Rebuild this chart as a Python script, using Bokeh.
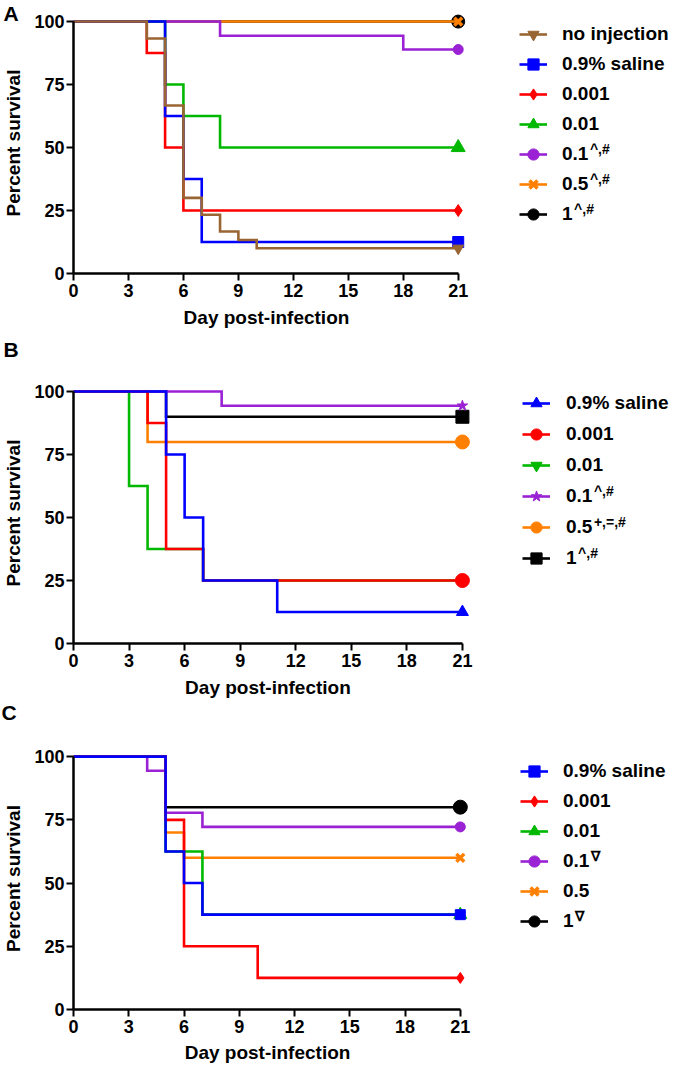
from bokeh.plotting import figure
from bokeh.models import Range1d, Legend, LegendItem, Label, FixedTicker, Title
from bokeh.layouts import column
from bokeh.embed import file_html
from bokeh.resources import INLINE

FONT = "Liberation Sans"

# ---------------- data ----------------
x_ticks = [0, 3, 6, 9, 12, 15, 18, 21]
y_ticks = [0, 25, 50, 75, 100]
x_title = "Day post-infection"
y_title = "Percent survival"

# Panel A
a_labels = ["no injection", "0.9% saline", "0.001", "0.01", "0.1", "0.5", "1"]
a_sups = ["", "", "", "", "^,#", "^,#", "^,#"]
a_days = [
    [0, 4, 5, 6, 7, 8, 9, 10, 21],
    [0, 5, 6, 7, 21],
    [0, 4, 5, 6, 21],
    [0, 5, 6, 8, 21],
    [0, 8, 18, 21],
    [0, 21],
    [0, 21],
]
a_surv = [
    [100, 93.3, 66.7, 30, 23.3, 16.7, 13.3, 10, 10],
    [100, 62.5, 37.5, 12.5, 12.5],
    [100, 87.5, 50, 25, 25],
    [100, 75, 62.5, 50, 50],
    [100, 94.4, 88.9, 88.9],
    [100, 100],
    [100, 100],
]
a_colors = ["#996633", "#0000FF", "#FF0000", "#00B800", "#9A22D4", "#FF8000", "#000000"]
a_markers = ["inverted_triangle", "square", "diamond", "triangle", "circle", "x", "circle"]
a_sizes = [11, 11, 12, 14, 10, 11, 13]

# Panel B
b_labels = ["0.9% saline", "0.001", "0.01", "0.1", "0.5", "1"]
b_sups = ["", "", "", "^,#", "+,=,#", "^,#"]
b_days = [
    [0, 5, 6, 7, 11, 21],
    [0, 4, 5, 7, 21],
    [0, 3, 4, 7, 21],
    [0, 8, 21],
    [0, 4, 21],
    [0, 5, 21],
]
b_surv = [
    [100, 75, 50, 25, 12.5, 12.5],
    [100, 87.5, 37.5, 25, 25],
    [100, 62.5, 37.5, 25, 25],
    [100, 94.4, 94.4],
    [100, 80, 80],
    [100, 90, 90],
]
b_colors = ["#0000FF", "#FF0000", "#00B800", "#9A22D4", "#FF8000", "#000000"]
b_markers = ["triangle", "circle", "inverted_triangle", "star", "circle", "square"]
b_sizes = [12, 14, 12, 11, 14, 13]

# Panel C
c_labels = ["0.9% saline", "0.001", "0.01", "0.1", "0.5", "1"]
c_sups = ["", "", "", "\u2207", "", "\u2207"]
c_days = [
    [0, 5, 6, 7, 21],
    [0, 5, 6, 10, 21],
    [0, 5, 7, 21],
    [0, 4, 5, 7, 21],
    [0, 5, 6, 21],
    [0, 5, 21],
]
c_surv = [
    [100, 62.5, 50, 37.5, 37.5],
    [100, 75, 25, 12.5, 12.5],
    [100, 62.5, 37.5, 37.5],
    [100, 94.4, 77.8, 72.2, 72.2],
    [100, 70, 60, 60],
    [100, 80, 80],
]
c_colors = ["#0000FF", "#FF0000", "#00B800", "#9A22D4", "#FF8000", "#000000"]
c_markers = ["square", "diamond", "triangle", "circle", "x", "circle"]
c_sizes = [10, 11, 13, 10, 11, 14]

# ---------------- helpers ----------------
CW = {'0': .556, '1': .556, '5': .556, '.': .278, ' ': .278, '-': .333, 'D': .722,
      'a': .556, 'y': .556, 'p': .611, 'o': .611, 's': .556, 't': .333, 'i': .278,
      'n': .611, 'f': .333, 'e': .556, 'c': .556}


def text_w(s, size):
    return sum(CW.get(ch, .556) for ch in s) * size


def mk_title(text, offset, standoff, valign, size="19px"):
    return Title(text=text, align="left", offset=offset, standoff=standoff,
                 vertical_align=valign, text_font=FONT, text_font_style="bold",
                 text_font_size=size, text_color="black")


def make_panel(labels, sups, days, surv, colors, markers, sizes,
               fig_top, height, border_top, frame_h, border_left, scale_x,
               first_row, row_step, glyph_x, standoff, xlab_standoff):
    Y_END = 103.6
    frame_w = 680 - border_left
    border_bottom = height - border_top - frame_h
    p = figure(width=680, height=height, output_backend="svg", toolbar_location=None,
               x_range=Range1d(0, frame_w / scale_x), y_range=Range1d(0, Y_END),
               min_border_left=border_left, min_border_right=0,
               min_border_top=border_top, min_border_bottom=border_bottom)
    p.xgrid.visible = False
    p.ygrid.visible = False
    p.outline_line_color = None
    p.background_fill_color = None
    p.border_fill_color = None

    for ax in (p.xaxis[0], p.yaxis[0]):
        ax.axis_line_width = 2.5
        ax.axis_line_color = "black"
        ax.major_tick_line_width = 2
        ax.major_tick_line_color = "black"
        ax.major_tick_out = 7
        ax.major_tick_in = 0
        ax.minor_tick_line_color = None
        ax.major_label_text_font = FONT
        ax.major_label_text_font_style = "bold"
        ax.major_label_text_font_size = "18px"
        ax.major_label_text_color = "black"
        ax.major_label_standoff = 2
        ax.axis_label_text_font = FONT
        ax.axis_label_text_font_style = "bold"
        ax.axis_label_text_font_size = "19px"
        ax.axis_label_text_color = "black"
        ax.axis_label_standoff = 7
    p.xaxis.ticker = FixedTicker(ticks=x_ticks)
    p.yaxis.ticker = FixedTicker(ticks=y_ticks)
    p.xaxis.bounds = (x_ticks[0], x_ticks[-1])
    p.yaxis.bounds = (y_ticks[0], y_ticks[-1])
    p.yaxis.axis_label = y_title
    p.xaxis.major_label_standoff = 3

    n = len(labels)
    rends = [None] * n
    for i in reversed(range(n)):
        lr = p.step(x=days[i], y=surv[i], mode="after", line_color=colors[i],
                    line_width=2.6, line_join="miter")
        kw = dict(marker=markers[i], size=sizes[i], line_color=colors[i],
                  fill_color=colors[i])
        kw["line_width"] = 3.5 if markers[i] == "x" else 1
        mr = p.scatter(x=[days[i][-1]], y=[surv[i][-1]], **kw)
        rends[i] = (lr, mr)

    frame_top = fig_top + border_top
    frame_bottom = frame_top + frame_h
    frame_left = border_left

    gh = 28
    spacing = row_step - gh
    leg_h = n * gh + (n - 1) * spacing
    leg_top = first_row - gh / 2
    items = [LegendItem(label=labels[i], renderers=list(rends[i])) for i in range(n)]
    legend = Legend(items=items,
                    location=(glyph_x - frame_left, frame_bottom - (leg_top + leg_h)),
                    glyph_width=28, glyph_height=gh, label_height=gh, spacing=spacing,
                    label_standoff=standoff, padding=0, margin=0,
                    border_line_color=None, background_fill_alpha=0,
                    label_text_font=FONT, label_text_font_style="bold",
                    label_text_font_size="19px", label_text_color="black")
    p.add_layout(legend)

    label_x = glyph_x + 28 + standoff
    for i in range(n):
        if sups[i]:
            cy = first_row + i * row_step
            p.add_layout(Label(x=label_x + text_w(labels[i], 19) + 1 - frame_left,
                               y=frame_bottom - (cy - 6),
                               x_units="screen", y_units="screen",
                               text=sups[i], text_font=FONT, text_font_style="bold",
                               text_font_size="14px", text_color="black",
                               text_baseline="middle", text_align="left"))

    # x-axis title centred under the drawn axis (0..21)
    x_mid = frame_left + scale_x * (x_ticks[0] + x_ticks[-1]) / 2
    p.add_layout(mk_title(x_title, x_mid - text_w(x_title, 19) / 2 - frame_left,
                          xlab_standoff, "top"), "below")
    return p, frame_left


pA, flA = make_panel(a_labels, a_sups, a_days, a_surv, a_colors, a_markers, a_sizes,
                     fig_top=0, height=367, border_top=12, frame_h=261, border_left=71,
                     scale_x=18.38, first_row=34, row_step=30, glyph_x=517, standoff=15,
                     xlab_standoff=15)
pB, flB = make_panel(b_labels, b_sups, b_days, b_surv, b_colors, b_markers, b_sizes,
                     fig_top=367, height=360, border_top=15, frame_h=261, border_left=73,
                     scale_x=18.52, first_row=403, row_step=31, glyph_x=522, standoff=16,
                     xlab_standoff=15)
pC, flC = make_panel(c_labels, c_sups, c_days, c_surv, c_colors, c_markers, c_sizes,
                     fig_top=727, height=346, border_top=20, frame_h=262, border_left=71,
                     scale_x=18.48, first_row=771, row_step=30, glyph_x=518, standoff=15,
                     xlab_standoff=13)

# panel letters
pA.add_layout(mk_title("A", 1 - flA, -24, "bottom", "21px"), "above")
pA.add_layout(mk_title("B", 1 - flA, 1, "top", "21px"), "below")
pB.add_layout(mk_title("C", 1 - flB, -13, "top", "21px"), "below")

layout = column(pA, pB, pC, spacing=0)
open("out.html", "w").write(file_html(layout, INLINE))
